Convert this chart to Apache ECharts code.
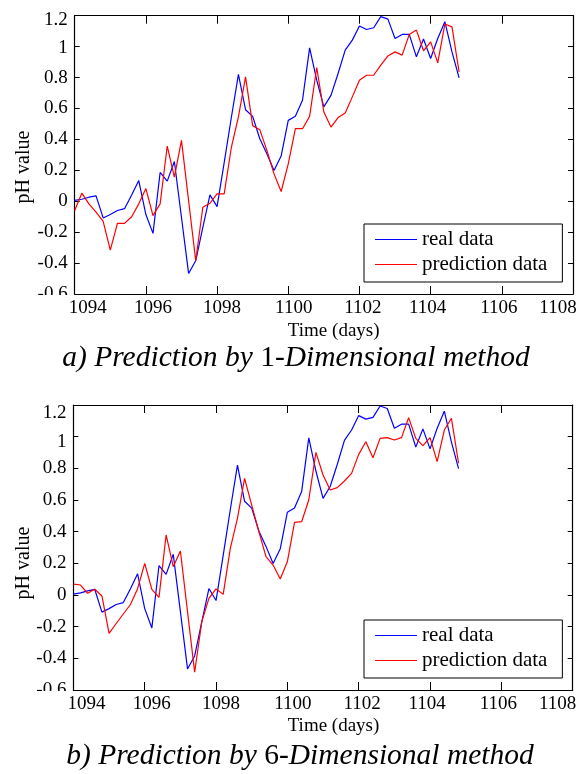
<!DOCTYPE html>
<html><head><meta charset="utf-8">
<script src="https://cdn.jsdelivr.net/npm/echarts@6/dist/echarts.min.js"></script>
<style>html,body{margin:0;padding:0;background:#fff}#c{width:584px;height:774px}</style>
</head><body><div id="c"></div>
<script>
// ---- data ----
const days = [1094, 1094.2, 1094.4, 1094.6, 1094.8, 1095, 1095.2, 1095.4, 1095.6, 1095.8,
  1096, 1096.2, 1096.4, 1096.6, 1096.8, 1097, 1097.2, 1097.4, 1097.6, 1097.8,
  1098, 1098.2, 1098.4, 1098.6, 1098.8, 1099, 1099.2, 1099.4, 1099.6, 1099.8,
  1100, 1100.2, 1100.4, 1100.6, 1100.8, 1101, 1101.2, 1101.4, 1101.6, 1101.8,
  1102, 1102.2, 1102.4, 1102.6, 1102.8, 1103, 1103.2, 1103.4, 1103.6, 1103.8,
  1104, 1104.2, 1104.4, 1104.6, 1104.8];
const realData = [0.005, 0.013, 0.026, 0.035, -0.108, -0.086, -0.06, -0.048, 0.04, 0.134,
  -0.086, -0.208, 0.186, 0.13, 0.257, -0.105, -0.467, -0.385, -0.169, 0.041,
  -0.035, 0.25, 0.54, 0.82, 0.592, 0.549, 0.404, 0.307, 0.199, 0.292,
  0.523, 0.549, 0.653, 0.992, 0.783, 0.61, 0.685, 0.826, 0.977, 1.042,
  1.133, 1.111, 1.122, 1.194, 1.178, 1.053, 1.079, 1.079, 0.934, 1.049,
  0.923, 1.053, 1.161, 0.966, 0.798];
const pred1D = [-0.06, 0.052, -0.017, -0.071, -0.13, -0.316, -0.143, -0.143, -0.1, -0.017,
  0.082, -0.093, -0.017, 0.357, 0.156, 0.394, 0.004, -0.385, -0.039, -0.013,
  0.048, 0.048, 0.346, 0.545, 0.804, 0.489, 0.463, 0.329, 0.177, 0.063,
  0.242, 0.469, 0.469, 0.549, 0.865, 0.577, 0.48, 0.541, 0.571, 0.675,
  0.783, 0.815, 0.815, 0.88, 0.94, 0.966, 0.945, 1.079, 1.107, 0.973,
  1.031, 0.895, 1.146, 1.128, 0.837];
const pred6D = [0.069, 0.063, 0.011, 0.036, -0.006, -0.242, -0.18, -0.12, -0.06, 0.04,
  0.2, 0.036, -0.015, 0.379, 0.179, 0.278, -0.105, -0.488, -0.168, -0.021,
  0.038, 0.004, 0.295, 0.484, 0.737, 0.568, 0.4, 0.242, 0.189, 0.101,
  0.211, 0.459, 0.463, 0.6, 0.901, 0.758, 0.663, 0.678, 0.72, 0.768,
  0.888, 0.968, 0.867, 0.989, 0.994, 0.979, 0.994, 1.12, 0.989, 0.943,
  0.994, 0.842, 1.042, 1.116, 0.832];
const xTicks = [1094, 1096, 1098, 1100, 1102, 1104, 1106, 1108];
const yTicks = [-0.6, -0.4, -0.2, 0, 0.2, 0.4, 0.6, 0.8, 1, 1.2];
const seriesNames = ['real data', 'prediction data'];
const xTitle = 'Time (days)';
const yTitle = 'pH value';
const captions = [['a) Prediction by ', '1', '-Dimensional method'], ['b) Prediction by ', '6', '-Dimensional method']];

// ---- styling ----
const FONT = 'Liberation Serif';
const pair = (ys) => days.map((d, i) => [d, ys[i]]);
const xShift = [13, 7, 5, 5.5, 3.5, -3, -3, -15];
const xRich = {};
xTicks.forEach((t, k) => {
  const d = xShift[k];
  xRich['x' + k] = {fontFamily: FONT, fontSize: 19, color: '#000',
    padding: d >= 0 ? [0, 0, 0, 2 * d] : [0, -2 * d, 0, 0]};
});

function xAx(grid, pos) {
  return {
    type: 'value', gridIndex: grid, position: pos,
    min: xTicks[0], max: xTicks[xTicks.length - 1], interval: 2,
    axisLine: {show: true, onZero: false, lineStyle: {color: '#000', width: 1.2}},
    axisTick: {show: true, inside: true, length: 8, lineStyle: {color: '#000', width: 1}},
    splitLine: {show: false},
    axisLabel: pos === 'bottom' ? {
      show: true, margin: 5,
      formatter: (v) => { const k = xTicks.indexOf(Math.round(v)); return '{x' + k + '|' + Math.round(v) + '}'; },
      rich: xRich
    } : {show: false}
  };
}
function yAx(grid, pos, d12, d1) {
  return {
    type: 'value', gridIndex: grid, position: pos,
    min: yTicks[0], max: yTicks[yTicks.length - 1], interval: 0.2,
    axisLine: {show: true, onZero: false, lineStyle: {color: '#000', width: 1.2}},
    axisTick: {show: true, inside: true, length: 5, lineStyle: {color: '#000', width: 1}},
    splitLine: {show: false},
    axisLabel: pos === 'left' ? {
      show: true, margin: 7,
      formatter: (v) => {
        const r = Math.round(v * 10) / 10;
        const s = String(r);
        if (Math.abs(r - 1.2) < 1e-6) return '{a|' + s + '}';
        if (Math.abs(r - 1) < 1e-6) return '{b|' + s + '}';
        return '{n|' + s + '}';
      },
      rich: {
        a: {fontFamily: FONT, fontSize: 19, color: '#000', padding: [2 * d12, 0, 0, 0]},
        b: {fontFamily: FONT, fontSize: 19, color: '#000', padding: [2 * d1, 0, 0, 0]},
        n: {fontFamily: FONT, fontSize: 19, color: '#000'}
      }
    } : {show: false}
  };
}
function legendAt(top) {
  return {
    data: seriesNames, orient: 'vertical', left: 364, top: top,
    padding: [3, 15, 5, 11], itemGap: 0, itemWidth: 42, itemHeight: 1.2, icon: 'rect',
    borderColor: '#000', borderWidth: 1, backgroundColor: '#fff', selectedMode: false,
    textStyle: {fontFamily: FONT, fontSize: 21, color: '#000', lineHeight: 25}
  };
}
function line(name, ys, color, idx) {
  return {
    name: name, type: 'line', data: pair(ys), xAxisIndex: idx, yAxisIndex: idx,
    symbol: 'none', showSymbol: false, color: color,
    lineStyle: {color: color, width: 1.2}, animation: false, z: 3
  };
}
function caption(parts, x, y) {
  return {
    type: 'text', x: x, y: y, z: 100,
    style: {
      text: '{i|' + parts[0] + '}{n|' + parts[1] + '}{i|' + parts[2] + '}',
      rich: {
        i: {fontFamily: FONT, fontSize: 29.5, fontStyle: 'italic', fill: '#000'},
        n: {fontFamily: FONT, fontSize: 29.5, fill: '#000'}
      },
      align: 'center', verticalAlign: 'middle', fill: '#000'
    }
  };
}
function plainText(t, x, y, size, rot) {
  return {type: 'text', x: x, y: y, rotation: rot || 0, z: 100,
    style: {text: t, fontFamily: FONT, fontSize: size, fill: '#000', align: 'center', verticalAlign: 'middle'}};
}

const chart = echarts.init(document.getElementById('c'), null, {renderer: 'canvas'});
chart.setOption({
  backgroundColor: '#fff',
  animation: false,
  grid: [
    {left: 74.7, top: 15.7, width: 498.3, height: 278.3},
    {left: 73.4, top: 405, width: 499.3, height: 285}
  ],
  xAxis: [xAx(0, 'bottom'), xAx(0, 'top'), xAx(1, 'bottom'), xAx(1, 'top')],
  yAxis: [yAx(0, 'left', 4, 1), yAx(0, 'right', 0, 0), yAx(1, 'left', 8, 5), yAx(1, 'right', 0, 0)],
  legend: [legendAt(224), legendAt(620)],
  series: [
    line(seriesNames[0], realData, '#0000ff', 0),
    line(seriesNames[1], pred1D, '#ff0000', 0),
    line(seriesNames[0], realData, '#0000ff', 2),
    line(seriesNames[1], pred6D, '#ff0000', 2)
  ],
  graphic: [
    plainText(yTitle, 23.5, 167, 20, Math.PI / 2),
    plainText(yTitle, 23.5, 563, 20, Math.PI / 2),
    plainText(xTitle, 333.7, 331, 19),
    plainText(xTitle, 333.5, 726, 19),
    caption(captions[0], 296, 358),
    caption(captions[1], 300, 756),
    {type: 'rect', z: 90, shape: {x: 30, y: 295, width: 40, height: 14}, style: {fill: '#fff'}},
    {type: 'rect', z: 90, shape: {x: 30, y: 691, width: 40, height: 14}, style: {fill: '#fff'}}
  ]
});
</script></body></html>
